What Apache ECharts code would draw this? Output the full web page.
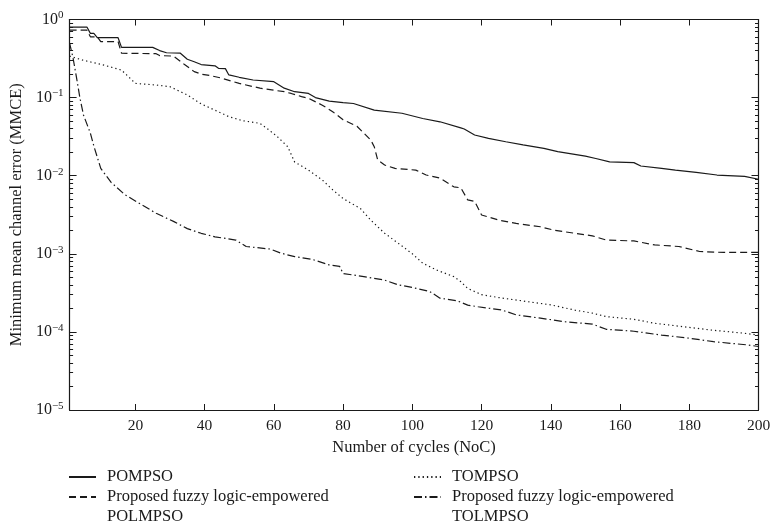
<!DOCTYPE html>
<html>
<head>
<meta charset="utf-8">
<script src="https://cdn.jsdelivr.net/npm/echarts@6/dist/echarts.min.js"></script>
<style>html,body{margin:0;padding:0;background:#fff}#c{width:780px;height:532px}</style>
</head>
<body>
<div id="c"></div>
<script>
// ---- data (x = number of cycles, y = MMCE) ----
const seriesNames = ['POMPSO', 'Proposed fuzzy logic-empowered\nPOLMPSO', 'TOMPSO', 'Proposed fuzzy logic-empowered\nTOLMPSO'];
const xTickValues = [20, 40, 60, 80, 100, 120, 140, 160, 180, 200];
const yDecades = [-5, -4, -3, -2, -1, 0];

const pompso = [[1,0.80],[6,0.80],[7,0.665],[8,0.665],[9,0.585],[15,0.585],[16,0.44],[25,0.44],[27,0.40],[29,0.375],[33,0.37],[35,0.31],[37,0.288],[39,0.265],[43,0.255],[44,0.237],[46,0.235],[47,0.195],[50,0.182],[54,0.168],[60,0.16],[63,0.132],[66,0.119],[70,0.113],[72,0.1],[76,0.09],[80,0.086],[83,0.084],[89,0.069],[97,0.063],[103,0.054],[108,0.049],[114,0.041],[115,0.0396],[118,0.0332],[122,0.030],[127,0.0272],[132,0.0248],[138,0.0224],[142,0.0203],[150,0.0178],[153,0.0166],[157,0.015],[164,0.0147],[166,0.0133],[172,0.0124],[176,0.0118],[182,0.011],[188,0.0102],[196,0.0098],[200,0.009]];

const polmpso = [[1,0.73],[6,0.73],[7,0.60],[9,0.60],[10,0.52],[15,0.52],[16,0.37],[26,0.365],[27,0.345],[31,0.34],[34,0.27],[37,0.215],[39,0.2],[42,0.19],[45,0.177],[50,0.152],[56,0.132],[63,0.119],[65,0.113],[68,0.103],[70,0.098],[74,0.08],[77,0.066],[80,0.052],[84,0.043],[88,0.0286],[89,0.0235],[90,0.0159],[92,0.0137],[95,0.0124],[101,0.0118],[104,0.0102],[108,0.0093],[112,0.0072],[114,0.0070],[116,0.0049],[118,0.0047],[120,0.00314],[125,0.0027],[130,0.00245],[137,0.00222],[141,0.002],[147,0.00183],[152,0.0017],[156,0.0015],[164,0.00146],[170,0.0013],[177,0.00124],[183,0.00107],[190,0.00104],[200,0.00104]];

const tompso = [[1,0.34],[5,0.30],[11,0.26],[16,0.225],[18,0.185],[20,0.152],[26,0.145],[30,0.138],[35,0.108],[39,0.083],[43,0.069],[47,0.057],[51,0.0506],[56,0.0468],[58,0.0404],[61,0.0316],[64,0.0235],[66,0.015],[70,0.0118],[74,0.0088],[77,0.0066],[80,0.0051],[85,0.0038],[88,0.0027],[92,0.00183],[96,0.00136],[100,0.001],[103,0.00076],[107,0.00062],[112,0.00051],[114,0.00044],[116,0.00036],[120,0.0003],[125,0.000275],[133,0.000245],[140,0.000222],[147,0.00019],[152,0.000174],[156,0.000157],[164,0.000145],[170,0.000129],[178,0.000117],[186,0.000106],[196,0.000096],[200,0.000091]];

const tolmpso = [[1,0.5],[2,0.32],[3,0.18],[4,0.098],[5,0.06],[7,0.035],[8,0.024],[10,0.0124],[13,0.0082],[17,0.0057],[22,0.0042],[26,0.0033],[31,0.0026],[35,0.0021],[39,0.00183],[43,0.00165],[49,0.0015],[52,0.00124],[59,0.00115],[62,0.00102],[66,0.00092],[71,0.00085],[76,0.00072],[79,0.00069],[80,0.00056],[86,0.00051],[92,0.00046],[96,0.0004],[100,0.00037],[105,0.00033],[108,0.00027],[113,0.00025],[116,0.00022],[119,0.00021],[126,0.00019],[130,0.000165],[137,0.00015],[144,0.000135],[152,0.000126],[156,0.000108],[164,0.000102],[172,0.000091],[180,0.000083],[187,0.000075],[197,0.000068],[200,0.000065]];

// ---- chart ----
const FONT = 'Liberation Serif';
const INK = '#1a1a1a';
const minorExp = [];
yDecades.slice(0, -1).forEach(e => { for (let k = 2; k <= 9; k++) minorExp.push(e + Math.log10(k)); });

const chart = echarts.init(document.getElementById('c'), null, {renderer: 'canvas'});

function sup(v) {
  const e = Math.round(Math.log10(v));
  return '{b|10}{s|' + (e < 0 ? '\u2212' + (-e) : e) + '}';
}

const baseX = {type: 'value', min: 1, max: 200, splitLine: {show: false},
  axisLine: {show: true, onZero: false, lineStyle: {color: INK, width: 1.2}},
  axisTick: {show: true, inside: true, length: 6, customValues: xTickValues, lineStyle: {color: INK, width: 1}}};

const lineStyles = [
  {type: 'solid'},
  {type: [7, 4]},
  {type: [1.3, 3]},
  {type: [8, 3, 1.5, 3]}
];
const datasets = [pompso, polmpso, tompso, tolmpso];

const legends = [
  {name: seriesNames[0], left: 68, top: 467},
  {name: seriesNames[1], left: 68, top: 467},
  {name: seriesNames[2], left: 413, top: 467},
  {name: seriesNames[3], left: 413, top: 467}
].map(l => ({
  data: [l.name], left: l.left, top: l.top, padding: 0, orient: 'vertical',
  itemWidth: 27, itemHeight: 20, selectedMode: false,
  itemStyle: {color: 'rgba(0,0,0,0)', borderColor: 'rgba(0,0,0,0)', borderWidth: 0, opacity: 0},
  formatter: n => (n.indexOf('\n') >= 0 ? '\n' + n : n),
  textStyle: {fontFamily: FONT, fontSize: 16.5, color: INK, lineHeight: 20, padding: [0, 0, 0, 6]}
}));

chart.setOption({
  animation: false,
  backgroundColor: '#fff',
  textStyle: {fontFamily: FONT},
  grid: {left: 67.5, right: 21.5, top: 19.5, bottom: 122},
  legend: legends,
  xAxis: [
    Object.assign({}, baseX, {position: 'bottom',
      name: 'Number of cycles (NoC)', nameLocation: 'middle', nameGap: 24,
      nameTextStyle: {fontFamily: FONT, fontSize: 16.5, color: INK},
      axisLabel: {show: true, margin: 8, customValues: xTickValues, fontFamily: FONT, fontSize: 15.5, color: INK}}),
    Object.assign({}, baseX, {position: 'top', axisLabel: {show: false}})
  ],
  yAxis: [
    {type: 'log', logBase: 10, min: 1e-5, max: 1, position: 'left',
      name: 'Minimum mean channel error (MMCE)', nameLocation: 'middle', nameGap: 36,
      nameTextStyle: {fontFamily: FONT, fontSize: 16.5, color: INK},
      splitLine: {show: false},
      axisLine: {show: true, lineStyle: {color: INK, width: 1.2}},
      axisTick: {show: true, inside: true, length: 7, lineStyle: {color: INK, width: 1}},
      axisLabel: {margin: 6, formatter: sup, color: INK,
        rich: {b: {fontFamily: FONT, fontSize: 16, color: INK},
               s: {fontFamily: FONT, fontSize: 11, color: INK, padding: [0, 0, 8, 0]}}}},
    {type: 'log', logBase: 10, min: 1e-5, max: 1, position: 'right',
      splitLine: {show: false},
      axisLine: {show: true, lineStyle: {color: INK, width: 1.2}},
      axisTick: {show: true, inside: true, length: 7, lineStyle: {color: INK, width: 1}},
      axisLabel: {show: false}},
    {type: 'value', min: -5, max: 0, position: 'left', splitLine: {show: false},
      axisLine: {show: false}, axisLabel: {show: false},
      axisTick: {show: true, inside: true, length: 3.5, customValues: minorExp, lineStyle: {color: INK, width: 1}}},
    {type: 'value', min: -5, max: 0, position: 'right', splitLine: {show: false},
      axisLine: {show: false}, axisLabel: {show: false},
      axisTick: {show: true, inside: true, length: 3.5, customValues: minorExp, lineStyle: {color: INK, width: 1}}}
  ],
  series: datasets.map((d, i) => ({
    name: seriesNames[i], type: 'line', data: d, xAxisIndex: 0, yAxisIndex: 0,
    showSymbol: false, symbol: 'none', silent: true,
    lineStyle: Object.assign({color: INK, width: 1.2}, lineStyles[i]),
    itemStyle: {color: INK}
  }))
});
</script>
</body>
</html>
